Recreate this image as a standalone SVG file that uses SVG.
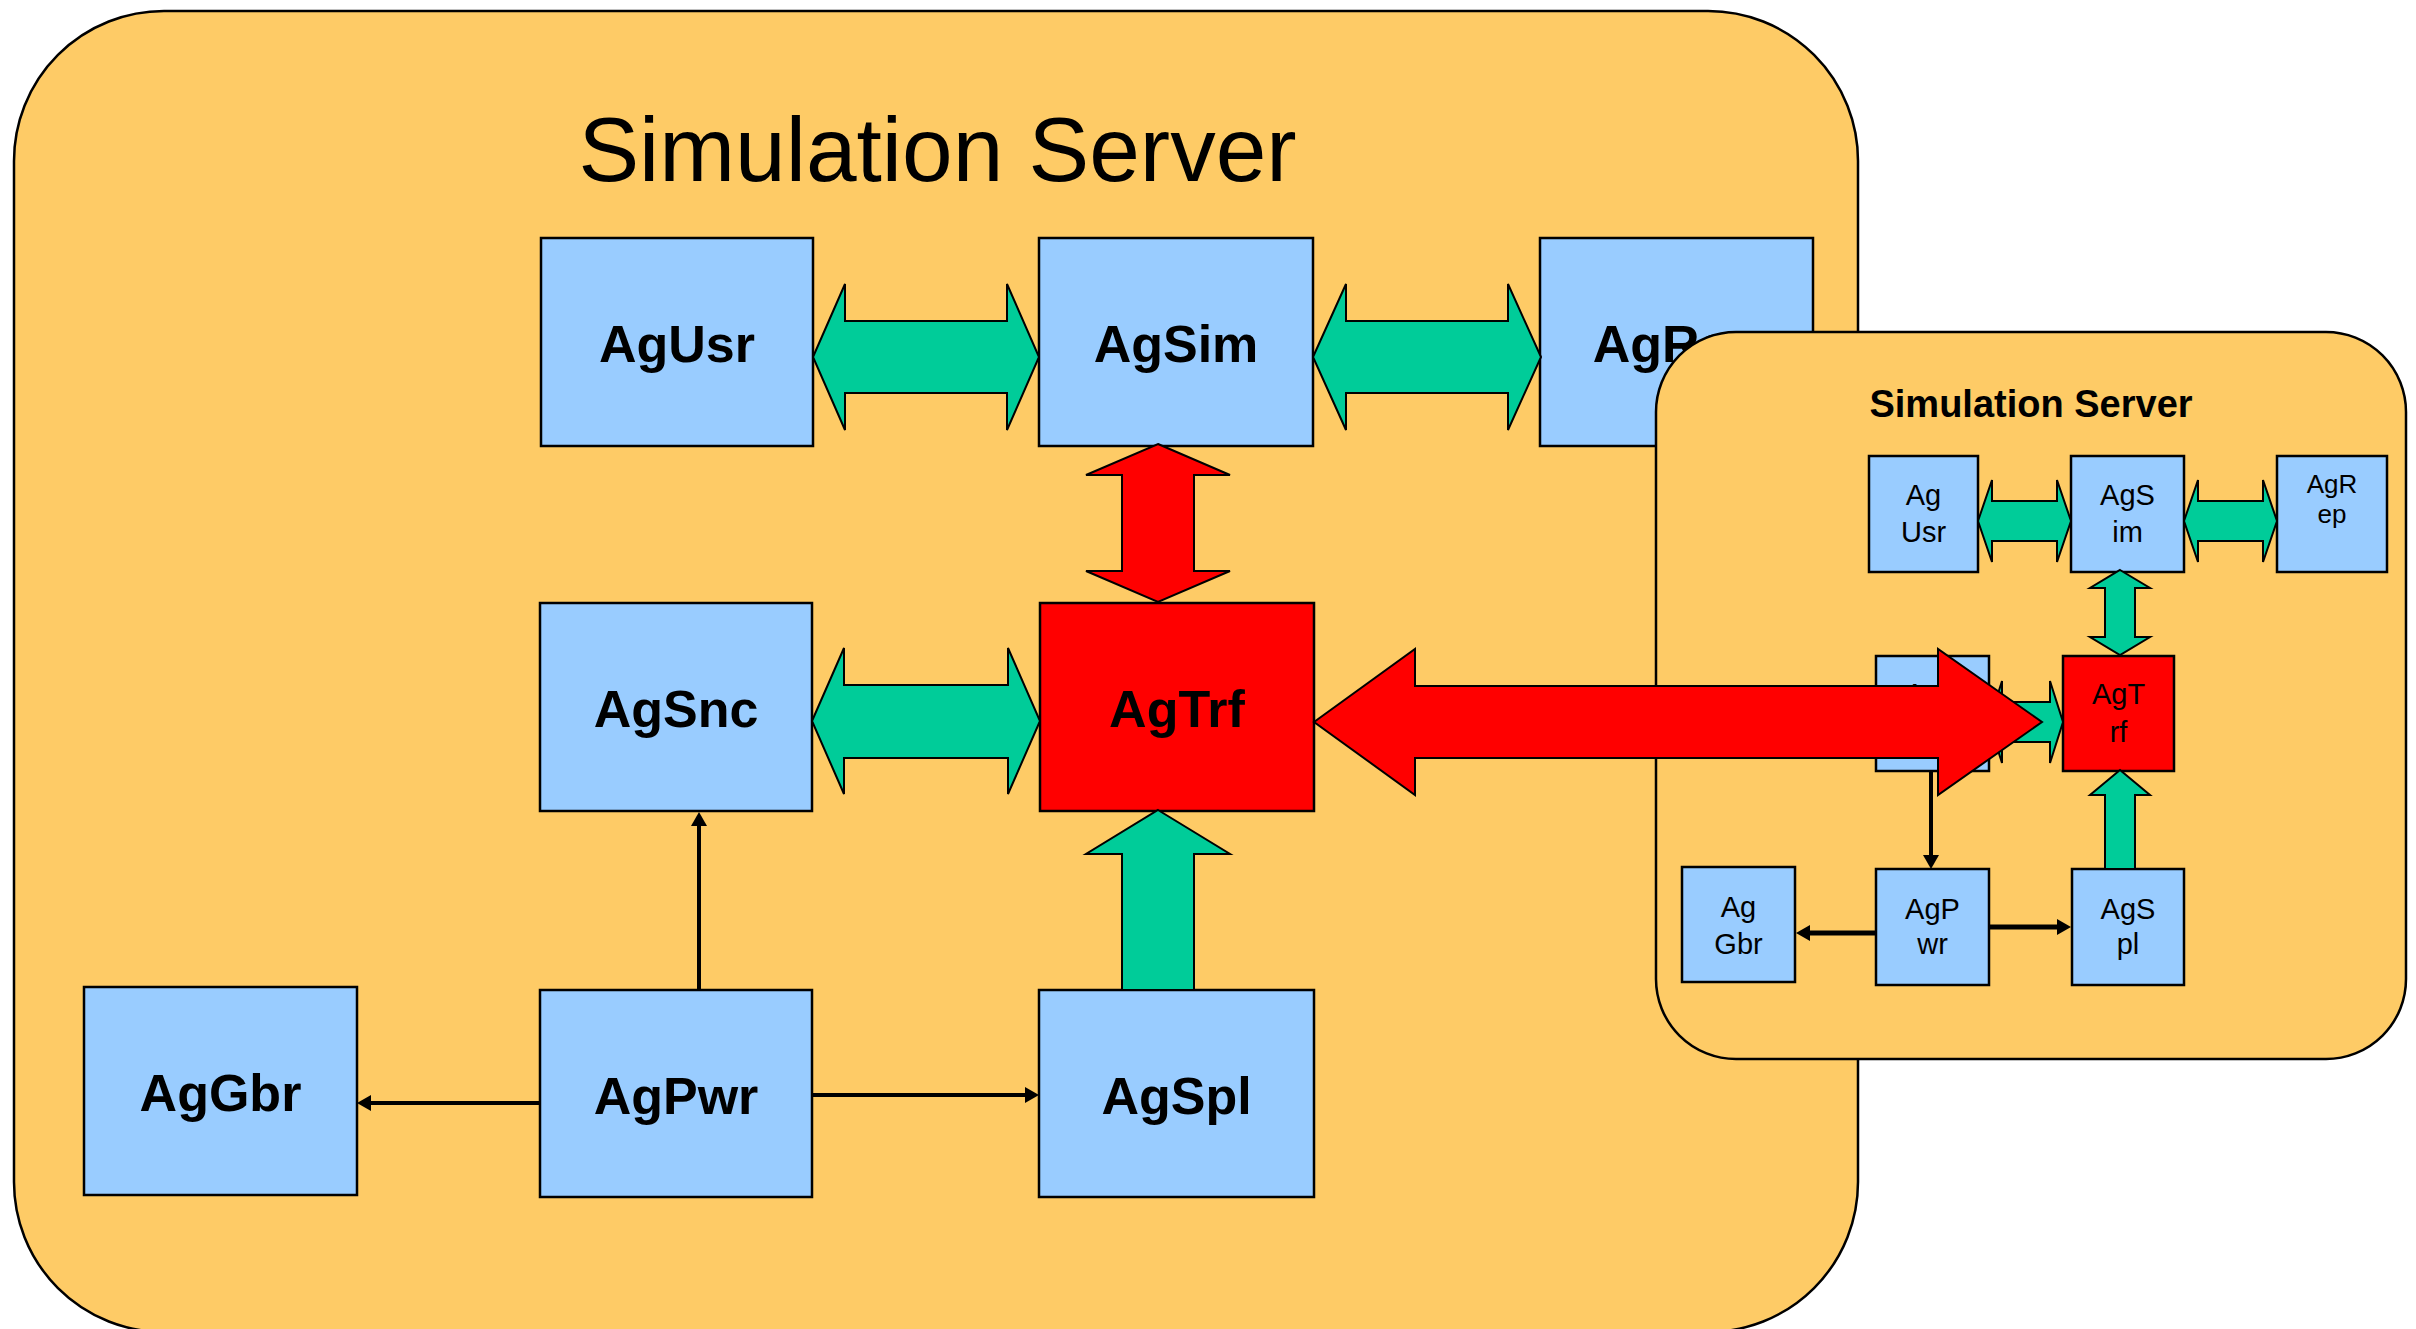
<svg xmlns="http://www.w3.org/2000/svg" width="2416" height="1329" viewBox="0 0 2416 1329">
  <style>
    .server { fill: #FECB66; stroke: #000; stroke-width: 2.5; }
    .agent { fill: #99CCFF; stroke: #000; stroke-width: 2.5; }
    .hub { fill: #FF0000; stroke: #000; stroke-width: 2.5; }
    .big { font-family: "Liberation Sans", Arial, sans-serif; font-weight: bold; font-size: 52px; text-anchor: middle; fill: #000; }
    .small { font-family: "Liberation Sans", Arial, sans-serif; font-size: 29px; text-anchor: middle; fill: #000; }
    .title { font-family: "Liberation Sans", Arial, sans-serif; font-size: 91px; text-anchor: middle; fill: #000; }
    .subtitle { font-family: "Liberation Sans", Arial, sans-serif; font-weight: bold; font-size: 38px; text-anchor: middle; fill: #000; }
    .green { fill: #00CC99; stroke: #000; stroke-width: 2; stroke-linejoin: miter; }
    .red { fill: #FF0000; stroke: #000; stroke-width: 2; stroke-linejoin: miter; }
    .link { fill: none; stroke: #000; stroke-width: 4; }
  </style>
  <defs>
    <marker id="head" viewBox="0 0 14 16" refX="0" refY="8" markerWidth="14" markerHeight="16" markerUnits="userSpaceOnUse" orient="auto">
      <path d="M0,0 L14,8 L0,16 Z" fill="#000"/>
    </marker>
  </defs>

  <!-- main server -->
  <g id="server-main">
    <rect class="server" x="14" y="11" width="1844" height="1321" rx="150" ry="150"/>
    <text class="title" x="937.5" y="181">Simulation Server</text>
  </g>
  <g id="AgUsr"><rect class="agent" x="541" y="238" width="272" height="208"/><text class="big" x="677" y="362">AgUsr</text></g>
  <g id="AgSim"><rect class="agent" x="1039" y="238" width="274" height="208"/><text class="big" x="1176" y="362">AgSim</text></g>
  <g id="AgRep"><rect class="agent" x="1540" y="238" width="273" height="208"/><text class="big" x="1676.5" y="362">AgRep</text></g>
  <g id="AgSnc"><rect class="agent" x="540" y="603" width="272" height="208"/><text class="big" x="676" y="727">AgSnc</text></g>
  <g id="AgTrf"><rect class="hub" x="1040" y="603" width="274" height="208"/><text class="big" x="1177" y="727">AgTrf</text></g>
  <g id="AgGbr"><rect class="agent" x="84" y="987" width="273" height="208"/><text class="big" x="220.5" y="1111">AgGbr</text></g>
  <g id="AgPwr"><rect class="agent" x="540" y="990" width="272" height="207"/><text class="big" x="676" y="1114">AgPwr</text></g>
  <g id="AgSpl"><rect class="agent" x="1039" y="990" width="275" height="207"/><text class="big" x="1176.5" y="1114">AgSpl</text></g>

  <!-- remote server -->
  <g id="server-remote">
    <rect class="server" x="1656" y="332" width="750" height="727" rx="80" ry="80"/>
    <text class="subtitle" x="2031" y="417">Simulation Server</text>
  </g>
  <g id="r-AgUsr"><rect class="agent" x="1869" y="456" width="109" height="116"/><text class="small" x="1923.5" y="505">Ag</text><text class="small" x="1923.5" y="542">Usr</text></g>
  <g id="r-AgSim"><rect class="agent" x="2071" y="456" width="113" height="116"/><text class="small" x="2127.5" y="505">AgS</text><text class="small" x="2127.5" y="542">im</text></g>
  <g id="r-AgRep"><rect class="agent" x="2277" y="456" width="110" height="116"/><text class="small" x="2332" y="493" style="font-size:26px">AgR</text><text class="small" x="2332" y="523" style="font-size:26px">ep</text></g>
  <g id="r-AgSnc"><rect class="agent" x="1876" y="656" width="113" height="115"/><text class="small" x="1932.5" y="704">AgS</text><text class="small" x="1932.5" y="742">nc</text></g>
  <g id="r-AgTrf"><rect class="hub" x="2063" y="656" width="111" height="115"/><text class="small" x="2118.5" y="704">AgT</text><text class="small" x="2118.5" y="742">rf</text></g>
  <g id="r-AgGbr"><rect class="agent" x="1682" y="867" width="113" height="115"/><text class="small" x="1738.5" y="917">Ag</text><text class="small" x="1738.5" y="954">Gbr</text></g>
  <g id="r-AgPwr"><rect class="agent" x="1876" y="869" width="113" height="116"/><text class="small" x="1932.5" y="919">AgP</text><text class="small" x="1932.5" y="954">wr</text></g>
  <g id="r-AgSpl"><rect class="agent" x="2072" y="869" width="112" height="116"/><text class="small" x="2128" y="919">AgS</text><text class="small" x="2128" y="954">pl</text></g>

  <g id="connectors">
    <!-- main server links -->
    <path class="green" d="M813,357 L845,284 L845,321 L1007,321 L1007,284 L1039,357 L1007,430 L1007,393 L845,393 L845,430 Z"/>
    <path class="green" d="M1313,357 L1346,284 L1346,321 L1508,321 L1508,284 L1541,357 L1508,430 L1508,393 L1346,393 L1346,430 Z"/>
    <path class="green" d="M812,721 L844,648 L844,685 L1008,685 L1008,648 L1040,721 L1008,794 L1008,758 L844,758 L844,794 Z"/>
    <path class="red" d="M1158,444 L1230,475 L1194,475 L1194,571 L1230,571 L1158,602 L1086,571 L1122,571 L1122,475 L1086,475 Z"/>
    <path class="green" d="M1158,810 L1230,854 L1194,854 L1194,990 L1122,990 L1122,854 L1086,854 Z"/>
    <line class="link" x1="699" y1="990" x2="699" y2="826" marker-end="url(#head)"/>
    <line class="link" x1="540" y1="1103" x2="371" y2="1103" marker-end="url(#head)"/>
    <line class="link" x1="812" y1="1095" x2="1025" y2="1095" marker-end="url(#head)"/>

    <!-- remote server links -->
    <path class="green" d="M1978,521 L1992,480 L1992,501 L2057,501 L2057,480 L2071,521 L2057,562 L2057,541 L1992,541 L1992,562 Z"/>
    <path class="green" d="M2184,521 L2198,480 L2198,501 L2263,501 L2263,480 L2277,521 L2263,562 L2263,541 L2198,541 L2198,562 Z"/>
    <path class="green" d="M1989,722 L2002,681 L2002,702 L2050,702 L2050,681 L2063,722 L2050,763 L2050,742 L2002,742 L2002,763 Z"/>
    <path class="green" d="M2120,570 L2150,588 L2135,588 L2135,637 L2150,637 L2120,655 L2090,637 L2105,637 L2105,588 L2090,588 Z"/>
    <path class="green" d="M2120,770 L2150,795 L2135,795 L2135,869 L2105,869 L2105,795 L2090,795 Z"/>
    <line class="link" x1="1931" y1="771" x2="1931" y2="855" marker-end="url(#head)"/>
    <line class="link" x1="1876" y1="933" x2="1810" y2="933" style="stroke-width:5" marker-end="url(#head)"/>
    <line class="link" x1="1989" y1="927" x2="2057" y2="927" style="stroke-width:5" marker-end="url(#head)"/>

    <!-- link between the two servers -->
    <path class="red" d="M1314,722 L1415,649 L1415,686 L1938,686 L1938,649 L2042,722 L1938,795 L1938,758 L1415,758 L1415,795 Z"/>
  </g>
</svg>
